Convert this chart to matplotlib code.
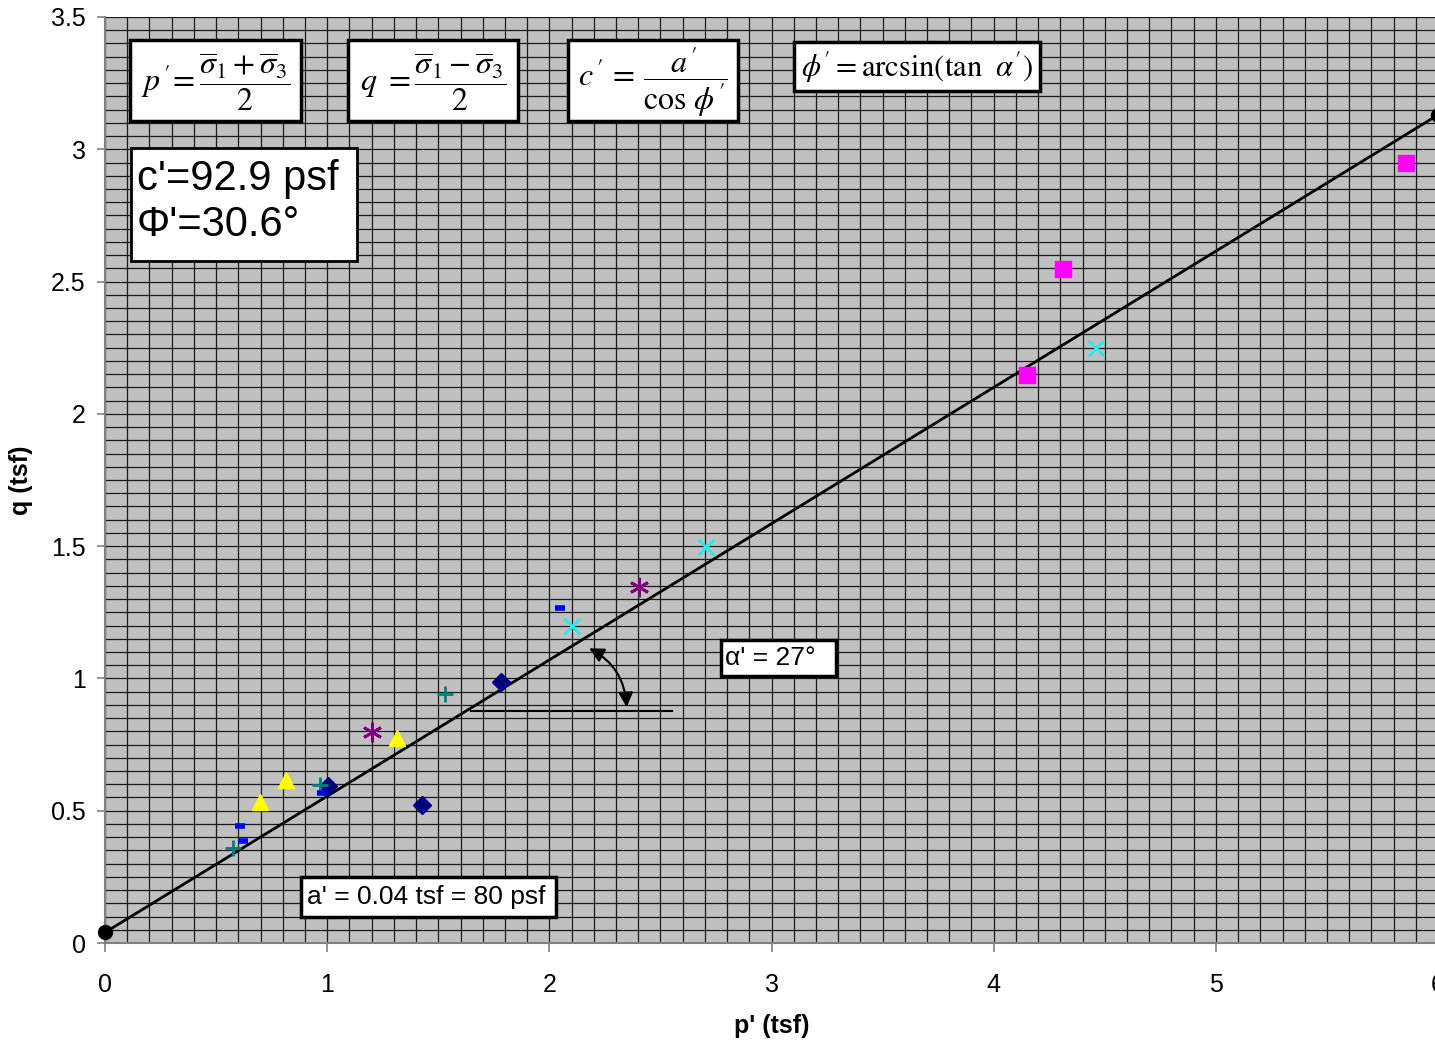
# Chemin de contraintes p'-q : droite de rupture Kf
import matplotlib
matplotlib.use("Agg")
import matplotlib.pyplot as plt
from matplotlib.patches import Rectangle
from matplotlib.ticker import MultipleLocator, FormatStrFormatter

plt.rcParams['font.family'] = ['Liberation Sans', 'DejaVu Sans']
plt.rcParams['mathtext.fontset'] = 'stix'

# données (p' et q en tsf)
sq_p = [4.15, 4.31, 5.855]
sq_q = [2.147, 2.547, 2.948]
x_p = [2.10, 2.705, 4.46]
x_q = [1.198, 1.497, 2.25]
ast_p = [1.20, 2.402]
ast_q = [0.797, 1.344]
tri_p = [0.698, 0.813, 1.313]
tri_q = [0.532, 0.616, 0.776]
dia_p = [1.002, 1.428, 1.782]
dia_q = [0.593, 0.522, 0.988]
plus_p = [0.577, 0.969, 1.530]
plus_q = [0.358, 0.597, 0.940]
dash_p = [0.608, 0.622, 0.978, 2.049]
dash_q = [0.443, 0.387, 0.567, 1.265]

# droite Kf
kf_p = [0, 6]
kf_q = [0.04, 3.13]
# repère horizontal pour l'angle alpha'
h_p = [1.647, 2.552]
h_q = [0.877, 0.877]

fig = plt.figure(figsize=(14.35, 10.42), dpi=100)
ax = fig.add_axes([0.0732, 0.0950, 0.9289, 0.8887])
ax.set_facecolor('#C0C0C0')
ax.set_xlim(0, 6)
ax.set_ylim(0, 3.5)
ax.xaxis.set_major_locator(MultipleLocator(1))
ax.yaxis.set_major_locator(MultipleLocator(0.5))
ax.xaxis.set_minor_locator(MultipleLocator(0.1))
ax.yaxis.set_minor_locator(MultipleLocator(0.05))
ax.xaxis.set_major_formatter(FormatStrFormatter('%g'))
ax.yaxis.set_major_formatter(FormatStrFormatter('%g'))
ax.grid(which='both', color='#1a1a1a', lw=0.9)
ax.set_axisbelow(True)
for s in ['top', 'right']:
    ax.spines[s].set_visible(False)
for s in ['left', 'bottom']:
    ax.spines[s].set_color('#808080')
    ax.spines[s].set_linewidth(1.5)
ax.tick_params(which='minor', length=0)
ax.tick_params(axis='x', which='major', direction='out', length=6.5, width=1.2,
               color='#808080', labelsize=18, pad=15)
ax.tick_params(axis='y', which='major', direction='out', length=6, width=1.2,
               color='#808080', labelsize=18, pad=8)

ax.set_xlabel("p' (tsf)", fontsize=18, fontweight='bold')
ax.set_ylabel("q (tsf)", fontsize=18, fontweight='bold')
ax.xaxis.set_label_coords(0.5004, -0.077)
ax.yaxis.set_label_coords(-0.054, 0.5)

# tracé
ax.plot(kf_p, kf_q, 'k-', lw=2, marker='o', ms=10, clip_on=False, zorder=3)
ax.plot(h_p, h_q, 'k-', lw=1.5, zorder=3)
ax.plot(sq_p, sq_q, 's', color='#FF00FF', ms=11, ls='none', zorder=4)
ax.plot(x_p, x_q, 'x', color='#22EEEE', ms=11, mew=2, ls='none', zorder=4)
ax.plot(ast_p, ast_q, marker=(6, 2, 0), color='#800080', ms=14, mew=2, ls='none', zorder=4)
ax.plot(tri_p, tri_q, '^', color='#FFFF00', ms=12, ls='none', zorder=4)
ax.plot(dia_p, dia_q, 'D', color='#000080', ms=9, ls='none', zorder=4)
ax.plot(plus_p, plus_q, '+', color='#008080', ms=12, mew=2, ls='none', zorder=4)
ax.plot(dash_p, dash_q, '_', color='#0000FF', ms=7, mew=4, ls='none', zorder=4)

ax.annotate('', xy=(2.348, 0.881), xytext=(2.168, 1.119),
            arrowprops=dict(arrowstyle='<|-|>', connectionstyle='arc3,rad=-0.3',
                            color='k', lw=1.5, mutation_scale=22), zorder=5)


def boite(x0, x1, y0, y1, lw=2.5):
    ax.add_patch(Rectangle((x0, y0), x1 - x0, y1 - y0, facecolor='white',
                           edgecolor='black', lw=lw, zorder=6))


# formules
boite(0.1125, 0.882, 3.107, 3.413)
ax.text(0.497, 3.255, r"$p\,'\!=\dfrac{\overline{\sigma}_1+\overline{\sigma}_3}{2}$",
        fontsize=23, ha='center', va='center', zorder=7)
boite(1.094, 1.859, 3.107, 3.413)
ax.text(1.476, 3.255, r"$q\ =\dfrac{\overline{\sigma}_1-\overline{\sigma}_3}{2}$",
        fontsize=23, ha='center', va='center', zorder=7)
boite(2.084, 2.849, 3.107, 3.413)
ax.text(2.466, 3.255, r"$c\,'\,=\,\dfrac{a\,'}{\mathrm{cos}\ \phi\,'}$",
        fontsize=23, ha='center', va='center', zorder=7)
boite(3.101, 4.208, 3.22, 3.405)
ax.text(3.655, 3.31, r"$\phi'=\mathrm{arcsin(tan}\ \ \alpha')$",
        fontsize=22, ha='center', va='center', zorder=7)

# résultats
boite(0.117, 1.134, 2.577, 3.005, lw=2)
ax.text(0.144, 2.80, "c'=92.9 psf\nΦ'=30.6°", fontsize=30, ha='left', va='center',
        linespacing=1.2, zorder=7)
boite(2.772, 3.290, 1.009, 1.145)
ax.text(2.79, 1.077, "α' = 27°", fontsize=19, ha='left', va='center', zorder=7)
boite(0.882, 2.030, 0.098, 0.249)
ax.text(0.909, 0.175, "a' = 0.04 tsf = 80 psf", fontsize=19, ha='left', va='center', zorder=7)

fig.savefig("out.png", dpi=100)
